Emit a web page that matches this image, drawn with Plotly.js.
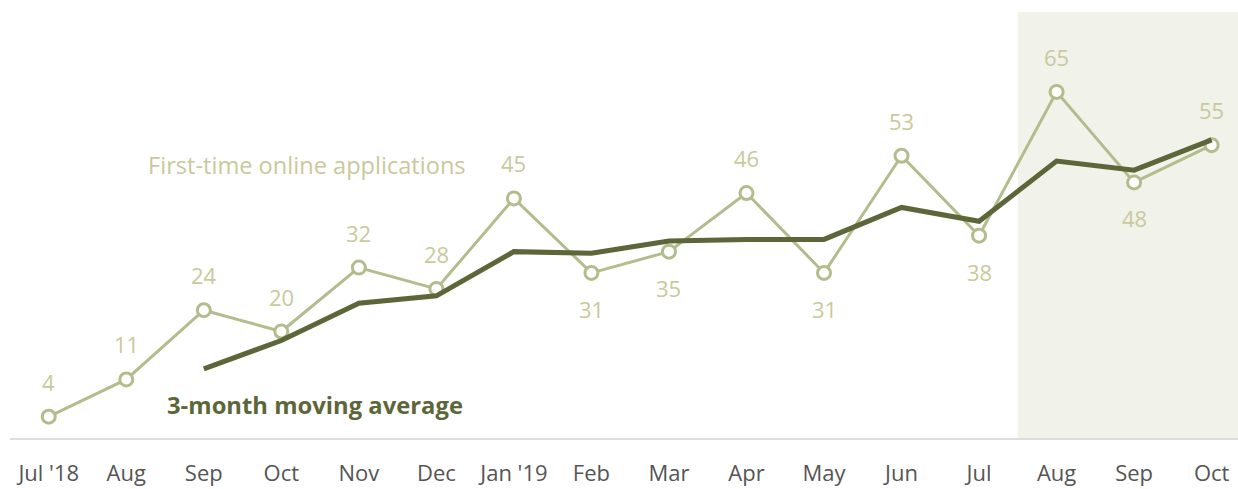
<!DOCTYPE html>
<html>
<head>
<meta charset="utf-8">
<script src="https://cdn.plot.ly/plotly-3.0.1.min.js"></script>
<style>html,body{margin:0;padding:0;background:#fff;}#chart{width:1238px;height:489px;}</style>
</head>
<body>
<div id="chart"></div>
<script>
const months = ["Jul '18","Aug","Sep","Oct","Nov","Dec","Jan '19","Feb","Mar","Apr","May","Jun","Jul","Aug","Sep","Oct"];
const applications = [4, 11, 24, 20, 32, 28, 45, 31, 35, 46, 31, 53, 38, 65, 48, 55];
const movingAverage = [null, null, 13, 18.3, 25.3, 26.7, 35, 34.7, 37, 37.3, 37.3, 43.3, 40.7, 52, 50.3, 56];
const labelSide = ["above","above","above","above","above","above","above","below","below","above","below","above","below","above","below","above"];

const idx = months.map((m, i) => i);
const lightOlive = '#b3bc8d';
const labelColor = '#c9c99b';
const darkOlive = '#5c6638';

const annotations = applications.map((v, i) => ({
  x: i, y: v, xref: 'x', yref: 'y', text: String(v), showarrow: false,
  yshift: labelSide[i] === 'above' ? 35 : -36,
  font: {family: 'Open Sans', size: 22, color: labelColor}
}));
annotations.push({
  x: 1.25, y: 51.3, xref: 'x', yref: 'y', xanchor: 'left', text: 'First-time online applications', showarrow: false,
  font: {family: 'Open Sans', size: 23.6, color: labelColor}
});
annotations.push({
  x: 1.5, y: 6.2, xref: 'x', yref: 'y', xanchor: 'left', text: '<b>3-month moving average</b>', showarrow: false,
  font: {family: 'Open Sans', size: 23.8, color: darkOlive}
});

const traces = [
  {x: idx, y: applications, type: 'scatter', mode: 'lines+markers',
   line: {color: lightOlive, width: 3},
   marker: {symbol: 'circle', size: 13, color: '#ffffff', line: {color: lightOlive, width: 3}},
   hoverinfo: 'skip'},
  {x: idx, y: movingAverage, type: 'scatter', mode: 'lines',
   line: {color: darkOlive, width: 5}, connectgaps: false, hoverinfo: 'skip'}
];

const layout = {
  width: 1238, height: 489,
  margin: {l: 10, r: 0, t: 12, b: 51},
  paper_bgcolor: '#ffffff', plot_bgcolor: '#ffffff',
  showlegend: false,
  xaxis: {range: [-0.5, 15.34], tickmode: 'array', tickvals: idx, ticktext: months,
    showgrid: false, zeroline: false, showline: true, linecolor: '#dddddd', linewidth: 2,
    ticks: '', ticklabelstandoff: 15, tickfont: {family: 'Open Sans', size: 22, color: '#555555'}, fixedrange: true},
  yaxis: {range: [0, 80], visible: false, showgrid: false, zeroline: false, fixedrange: true},
  shapes: [{type: 'rect', xref: 'x', yref: 'paper', x0: 12.5, x1: 15.34, y0: 0, y1: 1,
    fillcolor: '#f1f2ea', line: {width: 0}, layer: 'below'}],
  annotations: annotations
};

Plotly.newPlot('chart', traces, layout, {displayModeBar: false, staticPlot: true});
</script>
</body>
</html>
